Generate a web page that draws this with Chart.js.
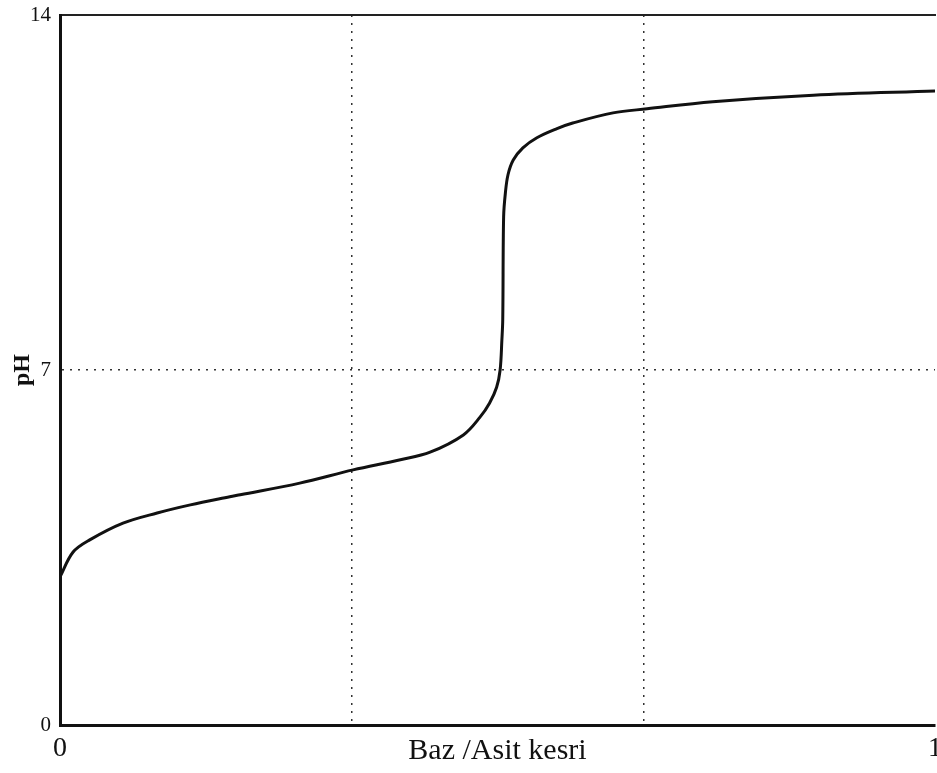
<!DOCTYPE html>
<html>
<head>
<meta charset="utf-8">
<title>Titrasyon egrisi</title>
<script src="https://cdn.jsdelivr.net/npm/chart.js@4.4.0/dist/chart.umd.min.js"></script>
<style>
  html, body { margin: 0; padding: 0; background: #fff; }
  #wrap { width: 937px; height: 773px; position: relative; }
</style>
</head>
<body>
<div id="wrap"><canvas id="canvas"></canvas></div>
<script>
// baz/asit kesri (x) ve pH (y)
var bazKesri = [0, 0.015, 0.034, 0.072, 0.111, 0.149, 0.194, 0.206, 0.274, 0.335,
  0.389, 0.423, 0.461, 0.480, 0.491, 0.499, 0.503, 0.505, 0.506, 0.507,
  0.509, 0.512, 0.518, 0.529, 0.545, 0.568, 0.586, 0.632, 0.671, 0.746, 0.861, 1.0];
var phDegerleri = [2.92, 3.41, 3.65, 3.98, 4.18, 4.34, 4.50, 4.54, 4.77, 5.03,
  5.23, 5.38, 5.72, 6.07, 6.35, 6.66, 7.0, 7.59, 8.0, 10.02,
  10.49, 10.85, 11.14, 11.38, 11.58, 11.76, 11.87, 12.07, 12.15, 12.29, 12.42, 12.5];

var xEtiketleri = { 0: "0", 15: "1" }; // sadece uc noktalar
var yEtiketleri = [0, 7, 14];

var serif = "'Liberation Serif', 'DejaVu Serif', serif";

var noktalar = [];
for (var i = 0; i < bazKesri.length; i++) {
  noktalar.push({ x: bazKesri[i], y: phDegerleri[i] });
}

var ctx = document.getElementById("canvas").getContext("2d");

window.myLine = new Chart(ctx, {
  type: "line",
  data: {
    datasets: [
      {
        label: "pH",
        data: noktalar,
        borderColor: "#111",
        borderWidth: 3,
        pointRadius: 0,
        fill: false,
        tension: 0.35,
      },
    ],
  },
  options: {
    responsive: true,
    maintainAspectRatio: false,
    animation: false,
    layout: { padding: { left: 0, right: 2, top: 0, bottom: 0 } },
    plugins: {
      legend: { display: false },
      tooltip: { enabled: false },
    },
    scales: {
      x: {
        type: "linear",
        position: "bottom",
        min: 0,
        max: 1,
        ticks: {
          stepSize: 1 / 15,
          autoSkip: false,
          maxRotation: 0,
          padding: 7,
          color: "#111",
          font: { family: serif, size: 28 },
          callback: function (v, idx) {
            return xEtiketleri[idx] !== undefined ? xEtiketleri[idx] : "";
          },
        },
        grid: {
          drawTicks: false,
          lineWidth: 1.5,
          color: function (c) {
            // noktali cizgiler 1/3 ve 2/3'te
            if (c.index === 5 || c.index === 10) return "#333";
            return "rgba(0,0,0,0)";
          },
        },
        border: { display: true, color: "#111", width: 3, dash: [2, 6] },
        title: {
          display: true,
          text: "Baz /Asit kesri",
          color: "#111",
          font: { family: serif, size: 30 },
          padding: { top: 0, bottom: 4 },
        },
        afterFit: function (s) {
          s.height = 48;
          s.paddingLeft = 0;
          s.paddingRight = 0;
        },
      },
      xUst: {
        type: "linear",
        position: "top",
        min: 0,
        max: 1,
        ticks: { display: false },
        grid: { display: false, drawTicks: false },
        border: { display: true, color: "#222", width: 2 },
        afterFit: function (s) {
          s.height = 15;
          s.paddingLeft = 0;
          s.paddingRight = 0;
        },
      },
      y: {
        type: "linear",
        min: 0,
        max: 14,
        afterBuildTicks: function (s) {
          s.ticks = yEtiketleri.map(function (v) { return { value: v }; });
        },
        ticks: {
          padding: 9,
          color: "#111",
          font: { family: serif, size: 21 },
        },
        grid: {
          drawTicks: false,
          lineWidth: 1.5,
          color: function (c) {
            if (c.tick && c.tick.value === 7) return "#333";
            return "rgba(0,0,0,0)";
          },
        },
        border: { display: true, color: "#111", width: 3, dash: [2, 6] },
        title: {
          display: true,
          text: "pH",
          color: "#111",
          font: { family: serif, size: 24, weight: "bold" },
          padding: { top: 8, bottom: 0 },
        },
        afterFit: function (s) {
          s.width = 60;
          s.paddingTop = 0;
          s.paddingBottom = 0;
        },
      },
    },
  },
});
</script>
</body>
</html>
